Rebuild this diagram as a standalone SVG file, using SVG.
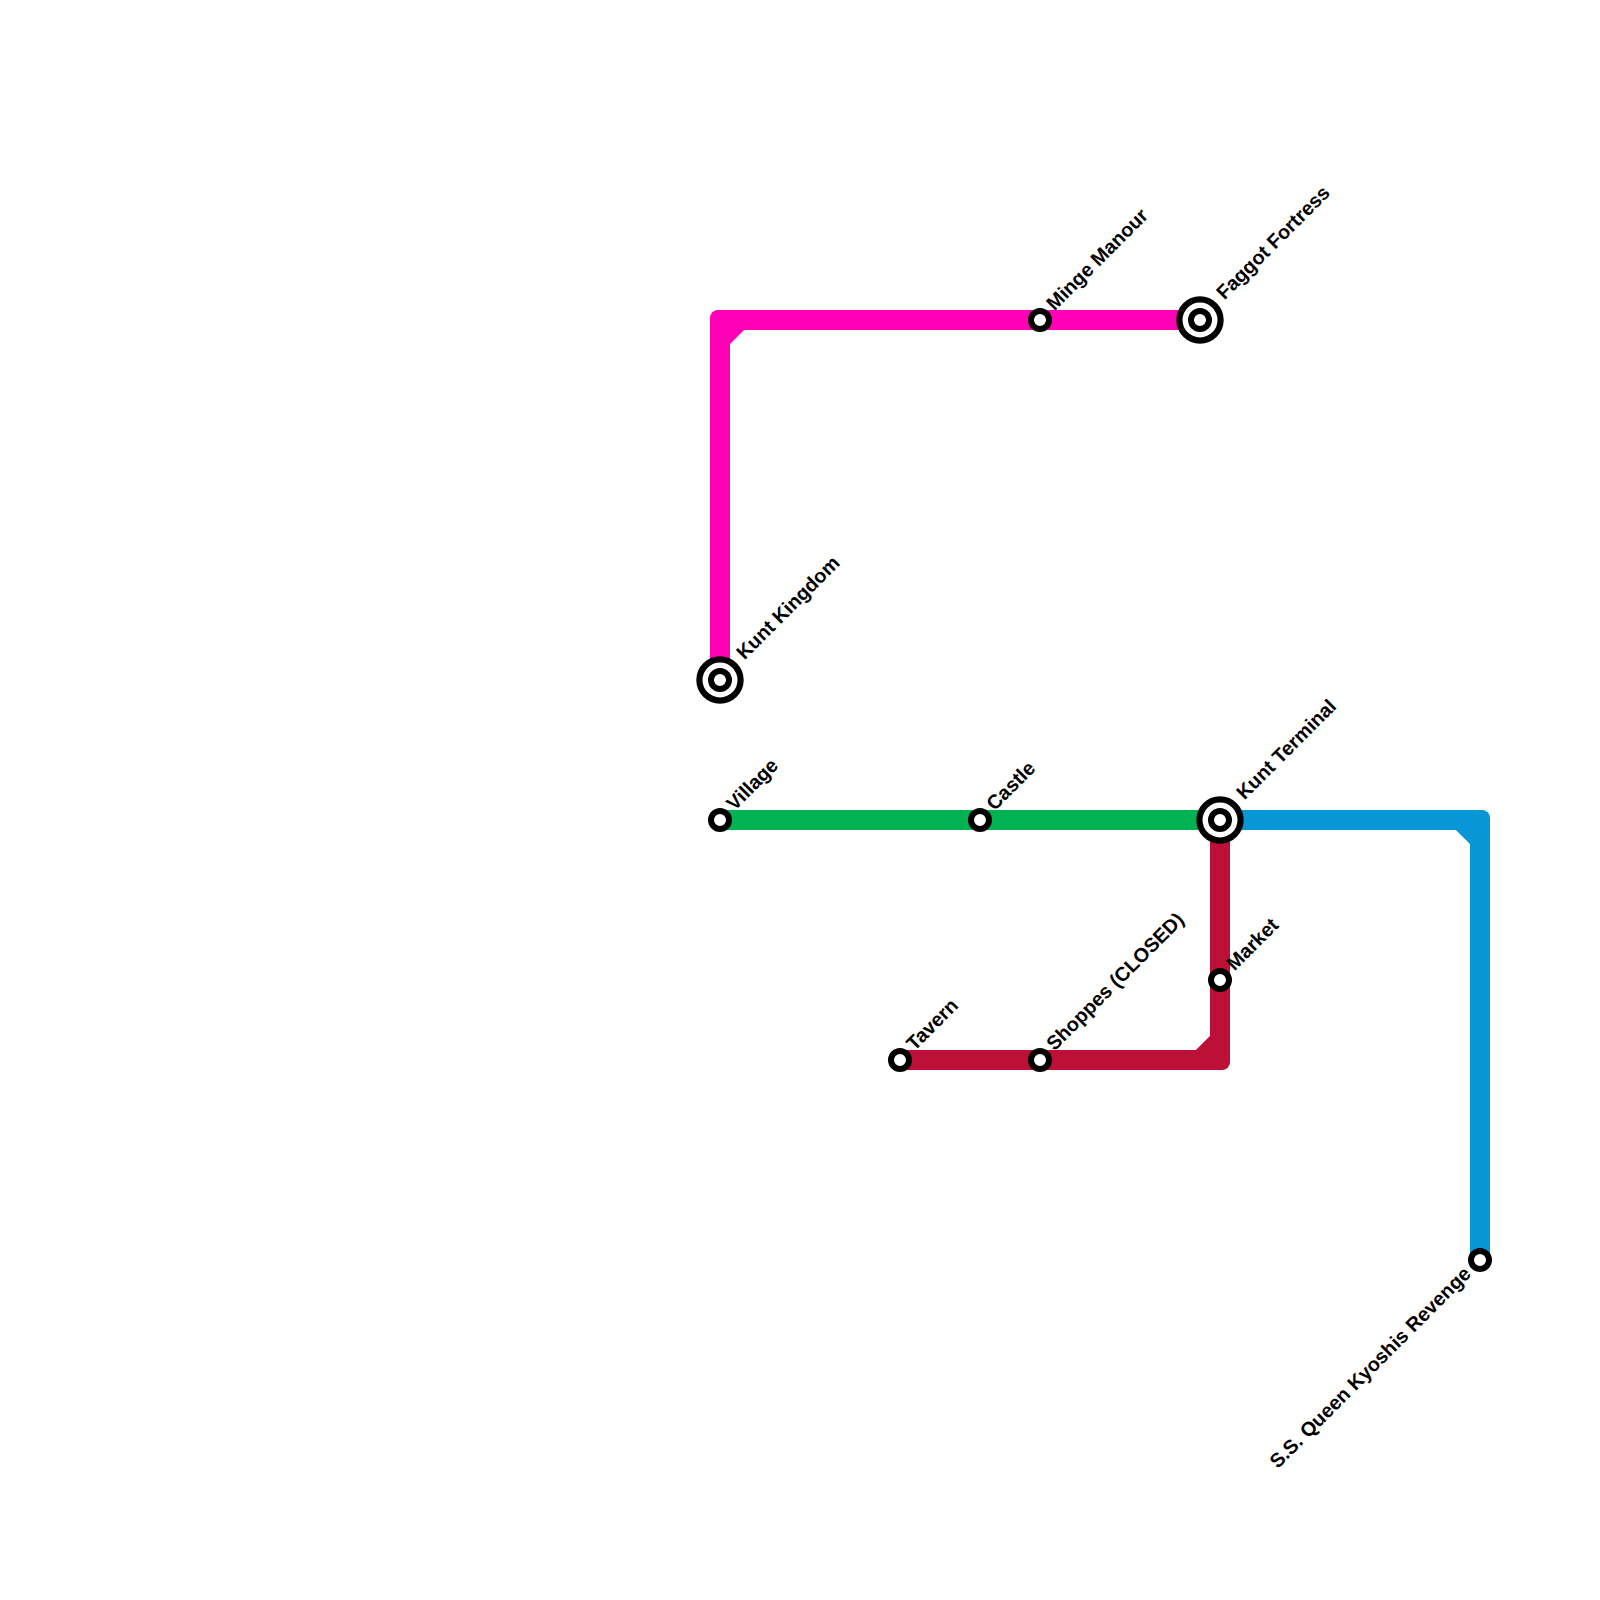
<svg xmlns="http://www.w3.org/2000/svg" width="1600" height="1600" viewBox="0 0 1600 1600">
<style>
.l{fill:none;stroke-width:20;stroke-linejoin:round}
.o{fill:#fff;stroke:#000;stroke-width:6.2}
.i{fill:#fff;stroke:#000;stroke-width:6}
text{font-family:"Liberation Sans",Arial,sans-serif;font-size:19.8px;font-weight:700;fill:#000}
</style>
<rect width="1600" height="1600" fill="#fff"/>
<g id="connectors">
<path class="l" stroke="#ff00b7" d="M720 680V320H1200M720 340L740 320"/>
<rect x="710" y="310" width="20" height="20" rx="8" fill="#ff00b7"/>
<path class="l" stroke="#00b251" d="M720 820H1220"/>
<path class="l" stroke="#0896d7" d="M1220 820H1480V1260M1460 820L1480 840"/>
<rect x="1470" y="810" width="20" height="20" rx="8" fill="#0896d7"/>
<path class="l" stroke="#bd1038" d="M1220 820V1060H900M1200 1060L1220 1040"/>
<rect x="1210" y="1050" width="20" height="20" rx="8" fill="#bd1038"/>
</g>
<g id="kunt-kingdom"><circle class="o" cx="720" cy="680" r="20.6"/><circle class="i" cx="720" cy="680" r="9"/><text transform="translate(744.5 660.5) rotate(-45)">Kunt Kingdom</text></g>
<g id="faggot-fortress"><circle class="o" cx="1200" cy="320" r="20.6"/><circle class="i" cx="1200" cy="320" r="9"/><text transform="translate(1224.5 300.5) rotate(-45)">Faggot Fortress</text></g>
<g id="minge-manour"><circle class="i" cx="1040" cy="320" r="9"/><text transform="translate(1054.5 311.5) rotate(-45)">Minge Manour</text></g>
<g id="village"><circle class="i" cx="720" cy="820" r="9"/><text transform="translate(734.5 811.5) rotate(-45)">Village</text></g>
<g id="castle"><circle class="i" cx="980" cy="820" r="9"/><text transform="translate(994.5 811.5) rotate(-45)">Castle</text></g>
<g id="kunt-terminal"><circle class="o" cx="1220" cy="820" r="20.6"/><circle class="i" cx="1220" cy="820" r="9"/><text transform="translate(1244.5 800.5) rotate(-45)">Kunt Terminal</text></g>
<g id="market"><circle class="i" cx="1220" cy="980" r="9"/><text transform="translate(1234.5 971.5) rotate(-45)">Market</text></g>
<g id="tavern"><circle class="i" cx="900" cy="1060" r="9"/><text transform="translate(914.5 1051.5) rotate(-45)">Tavern</text></g>
<g id="shoppes"><circle class="i" cx="1040" cy="1060" r="9"/><text transform="translate(1054.5 1051.5) rotate(-45)">Shoppes (CLOSED)</text></g>
<g id="ss-queen"><circle class="i" cx="1480" cy="1260" r="9"/><text text-anchor="end" transform="translate(1472 1275) rotate(-45)">S.S. Queen Kyoshis Revenge</text></g>
</svg>
